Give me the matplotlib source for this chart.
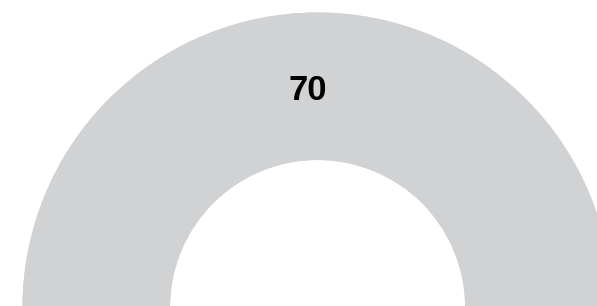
import matplotlib
matplotlib.use("Agg")
import matplotlib.pyplot as plt
from matplotlib.patches import Wedge

# gauge data
gauge_min = 0
gauge_max = 100
values = [70]
labels = ["70"]

track_color = "#d1d2d4"
bar_color = "#d1d2d4"

fig = plt.figure(figsize=(5.97, 3.06), dpi=100)
ax = fig.add_axes([0, 0, 1, 1])
ax.set_xlim(0, 597)
ax.set_ylim(0, 306)
ax.axis("off")

cx, cy = 317.5, -1.5
r_out, r_in = 295, 147.5

# background track (full half circle)
ax.add_patch(Wedge((cx, cy), r_out, 0, 180, width=r_out - r_in,
                   facecolor=track_color, edgecolor="none"))

# value arc, starts at the left end
for v in values:
    frac = (v - gauge_min) / (gauge_max - gauge_min)
    ax.add_patch(Wedge((cx, cy), r_out, 180 - 180 * frac, 180, width=r_out - r_in,
                       facecolor=bar_color, edgecolor="none"))

ax.text(308, 216, labels[0], ha="center", va="center", fontsize=25,
        fontweight="bold", family=["Liberation Sans", "DejaVu Sans"], color="black")

fig.savefig("out.png", dpi=100)
